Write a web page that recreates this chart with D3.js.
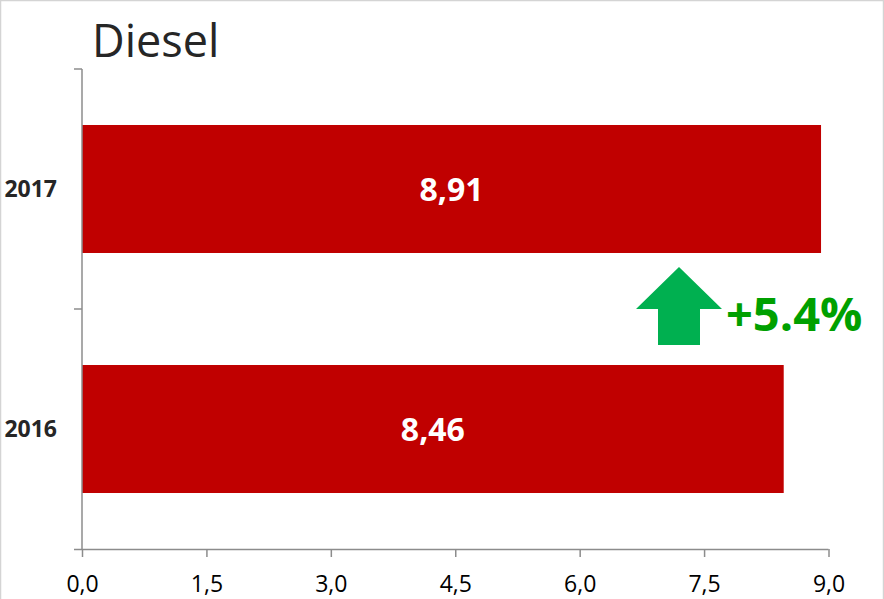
<!DOCTYPE html>
<html>
<head>
<meta charset="utf-8">
<script src="https://cdn.jsdelivr.net/npm/d3@7"></script>
<style>
  html, body { margin: 0; padding: 0; background: #fff; }
  svg { display: block; }
</style>
</head>
<body>
<svg id="chart" width="884" height="599"></svg>
<script>
// Diesel consumption by year
const years = ["2017", "2016"];
const values = [8.91, 8.46];
const xTicks = [0, 1.5, 3.0, 4.5, 6.0, 7.5, 9.0];
const changeLabel = "+5.4%";
const title = "Diesel";

const svg = d3.select("#chart");
const W = 884, H = 599;
const plotLeft = 82, plotRight = 828.5, plotTop = 69, plotBottom = 549;

// frame
svg.append("rect")
  .attr("x", 0.5).attr("y", 0.5)
  .attr("width", W - 1).attr("height", H + 10)
  .attr("fill", "none").attr("stroke", "#d4d4d4").attr("stroke-width", 1.5);

const x = d3.scaleLinear().domain([0, 9]).range([plotLeft, plotRight]);
const y = d3.scaleBand().domain(years).range([plotTop, plotBottom])
  .paddingInner(0.4667).paddingOuter(0.2333);

const fmt = d => d3.format(".1f")(d).replace(".", ",");
const fmt2 = d => d3.format(".2f")(d).replace(".", ",");

// bars
svg.append("g").selectAll("rect")
  .data(years)
  .join("rect")
  .attr("x", x(0))
  .attr("y", d => y(d))
  .attr("width", (d, i) => x(values[i]) - x(0))
  .attr("height", y.bandwidth())
  .attr("fill", "#C00000");

// value labels
svg.append("g").selectAll("text")
  .data(years)
  .join("text")
  .attr("x", (d, i) => (x(0) + x(values[i])) / 2)
  .attr("y", d => y(d) + y.bandwidth() / 2 + 12)
  .attr("text-anchor", "middle")
  .attr("font-family", "Open Sans")
  .attr("font-weight", "bold")
  .attr("font-size", 32)
  .attr("fill", "#fff")
  .text((d, i) => fmt2(values[i]));

const axisColor = "#8c8c8c";

// x axis
const xAxis = svg.append("g")
  .attr("transform", `translate(0,${plotBottom})`)
  .call(d3.axisBottom(x).tickValues(xTicks).tickFormat(fmt).tickSize(8).tickSizeOuter(0));
xAxis.select(".domain").attr("stroke", axisColor).attr("stroke-width", 1.5)
  .attr("d", `M${plotLeft - 8},0.5H${plotRight}`);
xAxis.selectAll(".tick line").attr("stroke", axisColor).attr("stroke-width", 1.5);
xAxis.selectAll(".tick text")
  .attr("font-family", "Open Sans")
  .attr("font-size", 23)
  .attr("fill", "#000")
  .attr("dy", 0)
  .attr("y", 43);

// y axis with ticks on category boundaries
const yG = svg.append("g");
yG.append("line")
  .attr("x1", plotLeft).attr("x2", plotLeft)
  .attr("y1", plotTop).attr("y2", plotBottom)
  .attr("stroke", axisColor).attr("stroke-width", 1.5);
const boundaries = [plotTop, (y(years[0]) + y.bandwidth() + y(years[1])) / 2];
yG.selectAll("line.tk")
  .data(boundaries)
  .join("line")
  .attr("class", "tk")
  .attr("x1", plotLeft - 8).attr("x2", plotLeft)
  .attr("y1", d => d).attr("y2", d => d)
  .attr("stroke", axisColor).attr("stroke-width", 1.5);

yG.selectAll("text")
  .data(years)
  .join("text")
  .attr("x", plotLeft - 25)
  .attr("y", d => y(d) + y.bandwidth() / 2 + 8)
  .attr("text-anchor", "end")
  .attr("font-family", "Open Sans")
  .attr("font-weight", "bold")
  .attr("font-size", 23)
  .attr("fill", "#262626")
  .text(d => d);

// title
svg.append("text")
  .attr("x", 92).attr("y", 57)
  .attr("font-family", "Open Sans")
  .attr("font-size", 45)
  .attr("fill", "#262626")
  .text(title);

// change arrow
const ax = 679, ay = 267;
const arrow = d3.path();
arrow.moveTo(ax, ay);
arrow.lineTo(ax + 43, ay + 42);
arrow.lineTo(ax + 21, ay + 42);
arrow.lineTo(ax + 21, ay + 78);
arrow.lineTo(ax - 21, ay + 78);
arrow.lineTo(ax - 21, ay + 42);
arrow.lineTo(ax - 43, ay + 42);
arrow.closePath();
svg.append("path").attr("d", arrow.toString()).attr("fill", "#00B050");

svg.append("text")
  .attr("x", 726).attr("y", 331)
  .attr("font-family", "Open Sans")
  .attr("font-weight", "bold")
  .attr("font-size", 47)
  .attr("fill", "#00A000")
  .text(changeLabel);
</script>
</body>
</html>
